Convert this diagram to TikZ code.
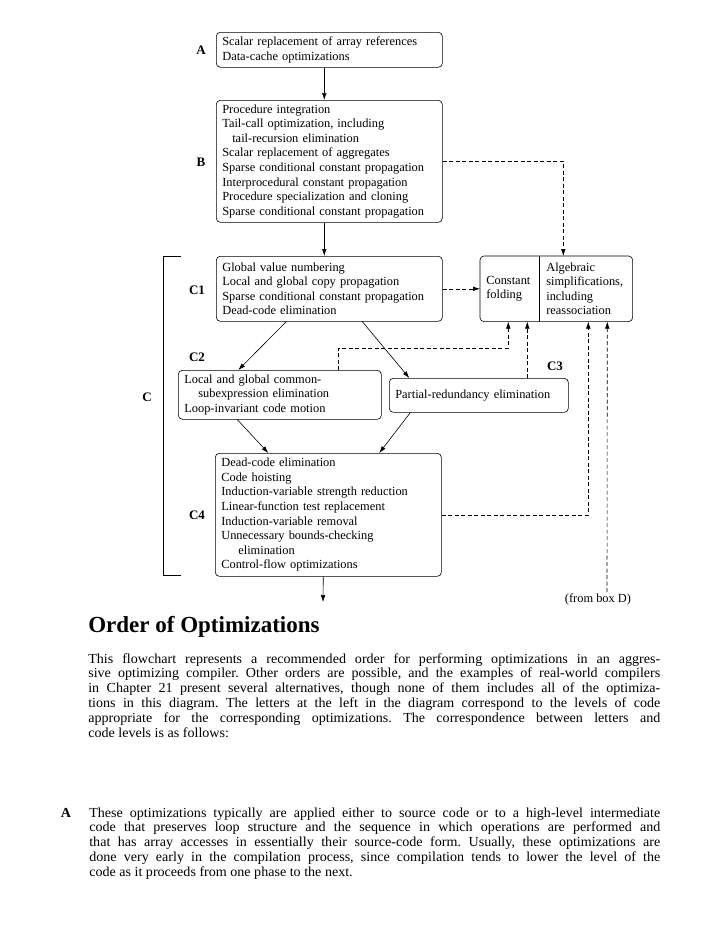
\documentclass[tikz,border=0pt]{standalone}
\usepackage{fontspec}
\setmainfont{Liberation Serif}
\newfontfamily\bodyfont[FakeStretch=1.02]{Liberation Serif}
\usetikzlibrary{arrows.meta}
\frenchspacing

\newcommand{\dfont}{\fontsize{12.4pt}{14.6pt}\selectfont}
\newcommand{\lfont}{\fontsize{13pt}{15pt}\selectfont\bfseries}
\newcommand{\bfont}{\bodyfont\fontsize{13.8pt}{14.8pt}\selectfont}
\newcommand{\fullline}[2][572pt]{\makebox[#1][s]{#2}}

\tikzset{
  optbox/.style={draw, rounded corners=4pt, align=left, anchor=north west,
    inner xsep=6pt, inner ysep=1pt, font=\dfont},
  cellbox/.style={align=left, anchor=north west, inner ysep=1pt,
    minimum height=65pt, font=\dfont},
  level/.style={font=\lfont, inner sep=0pt},
  flow/.style={line width=0.6pt, -{Latex[length=7pt,width=4.6pt]}},
  feed/.style={flow, dash pattern=on 4pt off 2.5pt},
  textline/.style={anchor=base west, inner sep=0pt, font=\bfont}
}

\begin{document}
\begin{tikzpicture}[x=1pt, y=-1pt, line width=0.6pt]
\useasboundingbox (0,0) rectangle (725,937);

% Cajas
\node[optbox, text width=214pt, minimum height=35pt] (A) at (216,32)
  {Scalar replacement of array references\\Data-cache optimizations};
\node[optbox, text width=214pt, minimum height=122pt] (B) at (216,100)
  {Procedure integration\\Tail-call optimization, including\\
   \hspace*{10pt}tail-recursion elimination\\Scalar replacement of aggregates\\
   Sparse conditional constant propagation\\Interprocedural constant propagation\\
   Procedure specialization and cloning\\Sparse conditional constant propagation};
\node[optbox, text width=214pt, minimum height=65pt] (C1) at (216,256)
  {Global value numbering\\Local and global copy propagation\\
   Sparse conditional constant propagation\\Dead-code elimination};
\node[optbox, text width=191pt, minimum height=49pt] (C2) at (178,370)
  {Local and global common-\\\hspace*{14pt}subexpression elimination\\
   Loop-invariant code motion};
\node[optbox, text width=167pt, minimum height=34pt] (C3) at (389,378)
  {Partial-redundancy elimination};
\node[optbox, text width=214pt, minimum height=123pt] (C4) at (215,453)
  {Dead-code elimination\\Code hoisting\\Induction-variable strength reduction\\
   Linear-function test replacement\\Induction-variable removal\\
   Unnecessary bounds-checking\\\hspace*{17pt}elimination\\Control-flow optimizations};

% Caja doble
\node[cellbox, text width=47pt, inner xsep=6pt] (cfold) at (480,256) {Constant\\folding};
\node[cellbox, text width=79pt, inner xsep=7pt] (algsimp) at (539,256)
  {Algebraic\\simplifications,\\including\\reassociation};
\draw[rounded corners=4pt] (cfold.north west) rectangle (algsimp.south east);
\draw (cfold.north east) -- (cfold.south east);

% Niveles
\node[level] (labA) at (201,50) {A};
\node[level] (labB) at (201,162) {B};
\node[level] (labC1) at (197,290) {C1};
\node[level] (labC2) at (197,357) {C2};
\node[level] (labC3) at (555,366) {C3};
\node[level] (labC4) at (197,515) {C4};
\node[level] (labC) at (147,397) {C};
\draw (181,256) -- (163,256) -- (163,575) -- (181,575);

% Flechas
\coordinate (out) at (323,602);
\draw[flow] ([xshift=-5pt]A.south) -- ([xshift=-5pt]B.north);
\draw[flow] ([xshift=-5pt]B.south) -- ([xshift=-5pt]C1.north);
\draw[flow] ([xshift=-43pt]C1.south) -- ([xshift=-41.5pt]C2.north);
\draw[flow] ([xshift=33pt]C1.south) -- ([xshift=-69.5pt]C3.north);
\draw[flow] ([xshift=-42.5pt]C2.south) -- ([xshift=-60pt]C4.north);
\draw[flow] ([xshift=-68.5pt]C3.south) -- ([xshift=51pt]C4.north);
\draw[flow] ([xshift=-5pt]C4.south) -- (out);

% Punteadas
\node[font=\dfont, inner sep=1pt] (fromD) at (598,599) {(from box D)};
\draw[feed] (B.east) -| ([xshift=-22.5pt]algsimp.north);
\draw[feed] (C1.east) -- (cfold.west);
\draw[feed] ([xshift=58.5pt]C2.north) -- ++(0,-22) -| ([xshift=-1.5pt]cfold.south);
\draw[feed] ([xshift=48.5pt]C3.north) -- ([xshift=17.5pt]cfold.south);
\draw[feed] (C4.east) -| ([xshift=2.5pt]algsimp.south);
\draw[feed] ([xshift=9pt]fromD.north) -- ([xshift=21.5pt]algsimp.south);

% Texto
\node[anchor=base west, inner sep=0pt, font=\fontsize{23pt}{26pt}\selectfont\bfseries]
  (title) at (88,632) {Order of Optimizations};
\foreach \txt [count=\i] in {
  {This flowchart represents a recommended order for performing optimizations in an aggres-},
  {sive optimizing compiler. Other orders are possible, and the examples of real-world compilers},
  {in Chapter 21 present several alternatives, though none of them includes all of the optimiza-},
  {tions in this diagram. The letters at the left in the diagram correspond to the levels of code},
  {appropriate for the corresponding optimizations. The correspondence between letters and}}
  \node[textline] (intro\i) at (88,{663+14.8*(\i-1)}) {\fullline{\txt}};
\node[textline] (intro6) at (88,737) {code levels is as follows:};

\node[anchor=base, inner sep=0pt, font=\bfont\bfseries] (parA) at (66,817) {A};
\foreach \txt [count=\i] in {
  {These optimizations typically are applied either to source code or to a high-level intermediate},
  {code that preserves loop structure and the sequence in which operations are performed and},
  {that has array accesses in essentially their source-code form. Usually, these optimizations are},
  {done very early in the compilation process, since compilation tends to lower the level of the}}
  \node[textline] (textA\i) at (89,{817+14.75*(\i-1)}) {\fullline[571pt]{\txt}};
\node[textline] (textA5) at (89,876) {code as it proceeds from one phase to the next.};

\end{tikzpicture}
\end{document}
